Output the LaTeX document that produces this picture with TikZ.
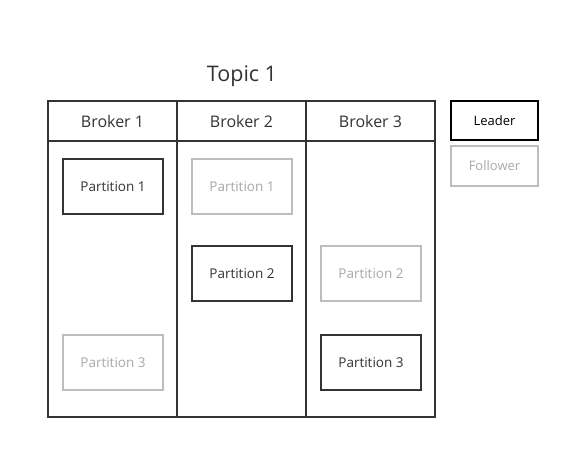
\documentclass[tikz,border=0pt]{standalone}
\usepackage{fontspec}
\setmainfont{Open Sans}
\definecolor{dk}{HTML}{333333}
\definecolor{lt}{HTML}{BDBDBD}
\definecolor{lttext}{HTML}{A8A8A8}
\begin{document}
\begin{tikzpicture}[x=1pt,y=-1pt,
  frame/.style={draw=dk,line width=1.6pt},
  leaderbox/.style={draw=dk,line width=1.6pt,minimum width=100pt,minimum height=55pt,inner sep=0pt,font=\fontsize{13.5}{16}\selectfont,text=dk},
  followerbox/.style={draw=lt,line width=1.6pt,minimum width=100pt,minimum height=55pt,inner sep=0pt,font=\fontsize{13.5}{16}\selectfont,text=lttext},
  hdr/.style={font=\fontsize{16}{19}\selectfont,text=dk}]
\useasboundingbox (0,0) rectangle (570,450);
\node[font=\fontsize{21.5}{25}\selectfont,text=dk] (topic) at (242,76) {Topic 1};
\draw[frame] (48,101) rectangle (435,417);
\draw[frame] (48,141) -- (435,141);
\draw[frame] (177,101) -- (177,417);
\draw[frame] (306,101) -- (306,417);
\node[hdr] (b1) at (112.5,121.5) {Broker 1};
\node[hdr] (b2) at (241.5,121.5) {Broker 2};
\node[hdr] (b3) at (370.5,121.5) {Broker 3};
\node[leaderbox] (p11) at (113,186.5) {Partition 1};
\node[followerbox] (p21) at (242,186.5) {Partition 1};
\node[leaderbox] (p22) at (242,273.5) {Partition 2};
\node[followerbox] (p32) at (371,273.5) {Partition 2};
\node[followerbox] (p13) at (113,362.5) {Partition 3};
\node[leaderbox] (p33) at (371,362.5) {Partition 3};
\node[draw=black,line width=2pt,minimum width=87pt,minimum height=39pt,inner sep=0pt,font=\fontsize{13}{15}\selectfont] (leader) at (494.5,120.5) {Leader};
\node[draw=lt,line width=1.6pt,minimum width=87pt,minimum height=40pt,inner sep=0pt,font=\fontsize{13}{15}\selectfont,text=lttext] (follower) at (494.5,166) {Follower};
\end{tikzpicture}
\end{document}
